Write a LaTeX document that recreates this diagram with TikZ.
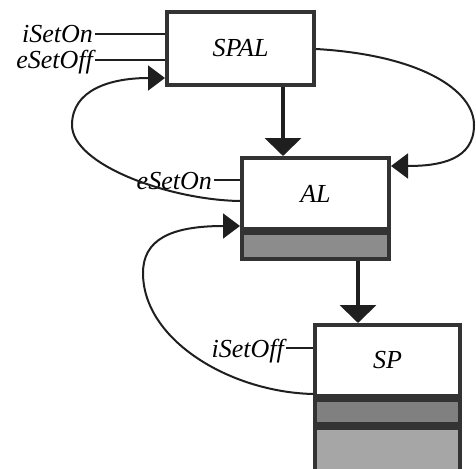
\documentclass[tikz,border=0pt]{standalone}
\usepackage{fontspec}
\setmainfont{Liberation Serif}
\usetikzlibrary{arrows.meta,calc}
\definecolor{boxgray}{gray}{0.2}
\definecolor{linegray}{gray}{0.12}
\definecolor{shadeA}{gray}{0.55}
\definecolor{shadeB}{gray}{0.5}
\definecolor{shadeC}{gray}{0.65}
\begin{document}
\begin{tikzpicture}[x=1pt,y=-1pt,
  txt/.style={font=\fontsize{26}{30}\selectfont\itshape},
  box/.style={txt, draw=boxgray, line width=4pt, inner sep=0pt, fill=white},
  band/.style={box, fill=#1},
  lbl/.style={txt, inner xsep=2pt, inner ysep=0pt, anchor=base east},
  conn/.style={line width=2pt, draw=linegray},
  thinarrow/.style={conn, -{Triangle[length=17pt,width=25pt]}},
  bigarrow/.style={line width=4pt, draw=linegray, -{Triangle[length=18pt,width=36pt]}},
]
\useasboundingbox (0,0) rectangle (476,468);

% boxes
\node[box, minimum width=147pt, minimum height=73pt] (spal) at (240.5,48.5) {SPAL};
\node[box, minimum width=147pt, minimum height=71pt] (al) at (315.5,193.5) {AL};
\node[band=shadeA, minimum width=147pt, minimum height=26pt, anchor=north] (alband) at (al.south) {};
\node[box, minimum width=145pt, minimum height=71pt] (sp) at (387.5,360.5) {SP};
\node[band=shadeB, minimum width=145pt, minimum height=24pt, anchor=north] (spb1) at (sp.south) {};
\node[band=shadeC, minimum width=145pt, minimum height=46pt, anchor=north] (spb2) at (spb1.south) {};

% input labels
\node[lbl] (ison) at (95,43) {iSetOn};
\draw[conn] (ison.east |- 0,34) -- (spal.west |- 0,34);
\node[lbl] (esoff) at (95,69) {eSetOff};
\draw[conn] (esoff.east |- 0,60) -- (spal.west |- 0,60);
\node[lbl] (eson) at (214,189) {eSetOn};
\draw[conn] (eson.east |- 0,180) -- (al.west |- 0,180);
\node[lbl] (isoff) at (286,357) {iSetOff};
\draw[conn] (isoff.east |- 0,348) -- (sp.west |- 0,348);

% loops
\draw[thinarrow] (al.west |- 0,201) .. controls (170,200) and (72,165) .. (72,125)
  .. controls (72,90) and (110,78) .. (spal.west |- 0,78);
\draw[thinarrow] (spal.east |- 0,49) .. controls (420,55) and (474,90) .. (474,125)
  .. controls (474,160) and (440,166) .. (al.east |- 0,166);
\draw[thinarrow] (sp.west |- 0,394) .. controls (230,392) and (143,340) .. (143,273)
  .. controls (143,240) and (170,226) .. (al.west |- 0,226);

% hierarchy arrows
\draw[bigarrow] (spal.south -| 283,0) -- (al.north -| 283,0);
\draw[bigarrow] (alband.south -| 358,0) -- (sp.north -| 358,0);
\end{tikzpicture}
\end{document}
